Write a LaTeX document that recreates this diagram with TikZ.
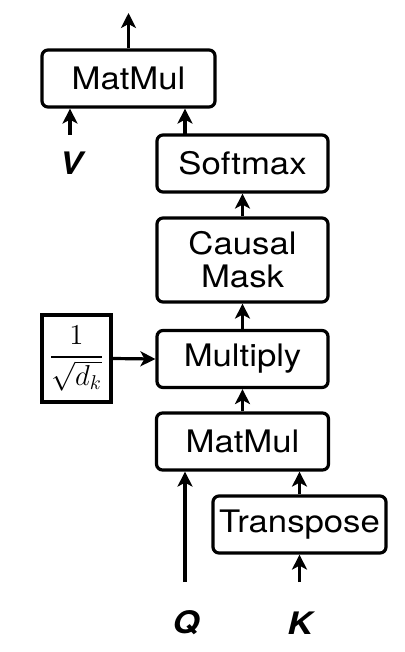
\documentclass[tikz,border=0pt]{standalone}
\usepackage{fontspec}
\usepackage{amsmath,amssymb}
\setmainfont{TeX Gyre Heros}[FakeStretch=1.12]
\usepackage{tikz}
\usetikzlibrary{arrows.meta}
\usetikzlibrary{positioning}
\begin{document}
\begin{tikzpicture}[x=0.5pt, y=-0.5pt, line width=1.6pt,
	arrow/.style={-{Stealth[length=7.5pt,width=7.5pt,inset=2pt]}},
	opbox/.style={draw, rounded corners=3pt, inner sep=0pt, font=\fontsize{15.5}{17.5}\selectfont, align=center},
	inlabel/.style={font=\fontsize{15.5}{17.5}\selectfont\bfseries\itshape}]
	\useasboundingbox (0,0) rectangle (404,652);

	\node[opbox, minimum width=86.5pt, minimum height=28.5pt] (matmulout) at (128.5,78.5) {MatMul};
	\node[opbox, minimum width=85.5pt, minimum height=28.5pt] (softmax) at (242.5,163.5) {Softmax};
	\node[opbox, minimum width=85.5pt, minimum height=42pt] (mask) at (242.5,260) {Causal\\[-1pt]Mask};
	\node[opbox, minimum width=85.5pt, minimum height=28.5pt] (multiply) at (242.5,359) {Multiply};
	\node[draw, inner sep=0pt, minimum width=34.5pt, minimum height=43.5pt, font=\fontsize{14}{16}\selectfont] (scale) at (76.5,358.5) {$\displaystyle\frac{1}{\sqrt{d_k}}$};
	\node[opbox, minimum width=86pt, minimum height=28.5pt] (matmulin) at (242.5,441.5) {MatMul};
	\node[opbox, minimum width=86.5pt, minimum height=28.5pt] (transpose) at (299.5,524.5) {Transpose};

	\node[inlabel] (q) at (186,623) {Q};
	\node[inlabel] (k) at (300,623) {K};
	\node[inlabel] (v) at (71,163) {V};

	\coordinate (qin) at (185,582);
	\coordinate (kin) at (299.5,582);
	\coordinate (vin) at (70,135);
	\coordinate (out) at (128.5,13);
	\coordinate (softout) at (185,135);

	\draw[arrow] (qin) -- (qin |- matmulin.south);
	\draw[arrow] (kin) -- (transpose.south);
	\draw[arrow] (transpose.north) -- (transpose.north |- matmulin.south);
	\draw[arrow] (matmulin.north) -- (matmulin.north |- multiply.south);
	\draw[arrow] (scale.east) -- (multiply.west);
	\draw[arrow] (multiply.north) -- (mask.south);
	\draw[arrow] (mask.north) -- (softmax.south);
	\draw[arrow] (softout) -- (softout |- matmulout.south);
	\draw[arrow] (vin) -- (vin |- matmulout.south);
	\draw[arrow] (matmulout.north) -- (out);
\end{tikzpicture}
\end{document}
